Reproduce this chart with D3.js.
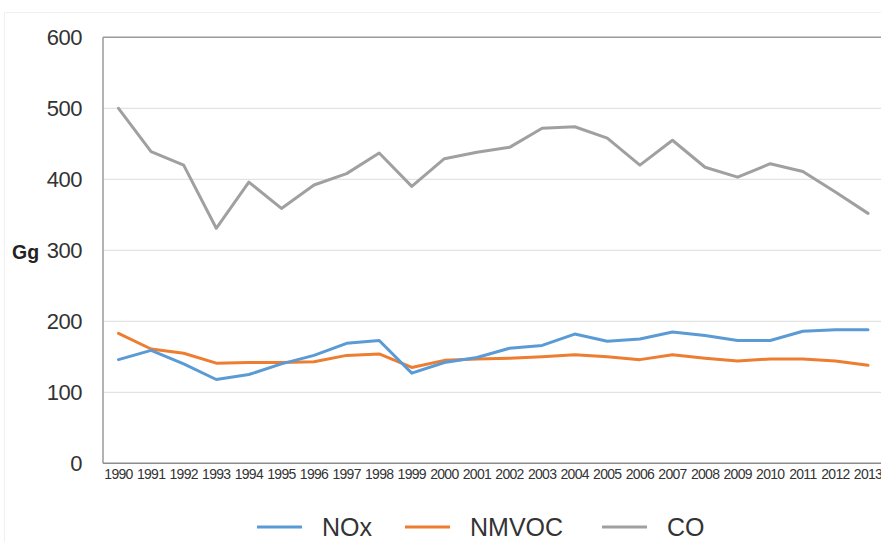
<!DOCTYPE html>
<html>
<head>
<meta charset="utf-8">
<script src="https://cdn.jsdelivr.net/npm/d3@7/dist/d3.min.js"></script>
<style>
  html, body { margin: 0; padding: 0; background: #fff; }
  svg { display: block; font-family: Arial, "Liberation Sans", sans-serif; }
</style>
</head>
<body>
<svg id="chart" width="881" height="542"></svg>
<script>
const years = ["1990","1991","1992","1993","1994","1995","1996","1997","1998","1999","2000","2001","2002","2003","2004","2005","2006","2007","2008","2009","2010","2011","2012","2013"];
const nox   = [146,159,140,118,125,140,152,169,173,127,142,149,162,166,182,172,175,185,180,173,173,186,188,188];
const nmvoc = [183,161,155,141,142,142,143,152,154,135,145,147,148,150,153,150,146,153,148,144,147,147,144,138];
const co    = [500,439,420,331,396,359,392,408,437,390,429,438,445,472,474,458,420,455,417,403,422,411,382,352];
const yTicks = [0,100,200,300,400,500,600];
const seriesNames = ["NOx","NMVOC","CO"];
const seriesColors = ["#5b9bd5","#ed7d31","#a0a0a0"];
const yLabel = "Gg";

(function () {
const svg = d3.select("#chart");
const pLeft = 103, pRight = 881, pTop = 37.3, pBottom = 463.3;

const x = d3.scalePoint().domain(years).range([118.5, 868]);
const y = d3.scaleLinear().domain([0, 600]).range([pBottom, pTop]);

// faint outer border
svg.append("rect").attr("x", 4.5).attr("y", 12.5).attr("width", 900).attr("height", 600)
  .attr("fill", "none").attr("stroke", "#f0f0f0");

// gridlines
svg.append("g").selectAll("line").data(yTicks.filter(d => d > 0 && d < 600)).join("line")
  .attr("x1", pLeft).attr("x2", pRight)
  .attr("y1", d => y(d)).attr("y2", d => y(d))
  .attr("stroke", "#dcdcdc").attr("stroke-width", 1);

// top frame line
svg.append("line").attr("x1", pLeft).attr("x2", pRight).attr("y1", y(600)).attr("y2", y(600))
  .attr("stroke", "#9a9a9a").attr("stroke-width", 1.5);

// left axis line
svg.append("line").attr("x1", pLeft).attr("x2", pLeft).attr("y1", y(600)).attr("y2", y(0))
  .attr("stroke", "#9a9a9a").attr("stroke-width", 1.5);

// bottom axis line
svg.append("line").attr("x1", pLeft).attr("x2", pRight).attr("y1", y(0)).attr("y2", y(0))
  .attr("stroke", "#8c8c8c").attr("stroke-width", 1.5);

// y tick labels
svg.append("g").selectAll("text").data(yTicks).join("text")
  .attr("x", 82).attr("y", d => y(d)).attr("dy", "0.36em")
  .attr("text-anchor", "end").attr("font-size", 22).attr("letter-spacing", "-0.5").attr("fill", "#333")
  .text(d => d);

// y label
svg.append("text").attr("x", 12).attr("y", 259).attr("font-size", 19.5)
  .attr("font-weight", "bold").attr("fill", "#222").text(yLabel);

// x tick labels
svg.append("g").selectAll("text").data(years).join("text")
  .attr("x", d => x(d)).attr("y", 479).attr("text-anchor", "middle")
  .attr("font-size", 14).attr("letter-spacing", "-0.7").attr("fill", "#333")
  .text(d => d);

// lines
const data = [nox, nmvoc, co];
const line = d3.line().x((d, i) => x(years[i])).y(d => y(d));
[2, 1, 0].forEach(k => {
  svg.append("path").datum(data[k]).attr("d", line)
    .attr("fill", "none").attr("stroke", seriesColors[k])
    .attr("stroke-width", 3).attr("stroke-linejoin", "round").attr("stroke-linecap", "round");
});

// legend
const legendX = [257, 405, 602];
const lg = svg.append("g");
seriesNames.forEach((n, i) => {
  lg.append("line").attr("x1", legendX[i]).attr("x2", legendX[i] + 45)
    .attr("y1", 527).attr("y2", 527).attr("stroke", seriesColors[i]).attr("stroke-width", 3);
  lg.append("text").attr("x", legendX[i] + 65).attr("y", 536)
    .attr("font-size", 25).attr("fill", "#333").text(n);
});
})();
</script>
</body>
</html>
